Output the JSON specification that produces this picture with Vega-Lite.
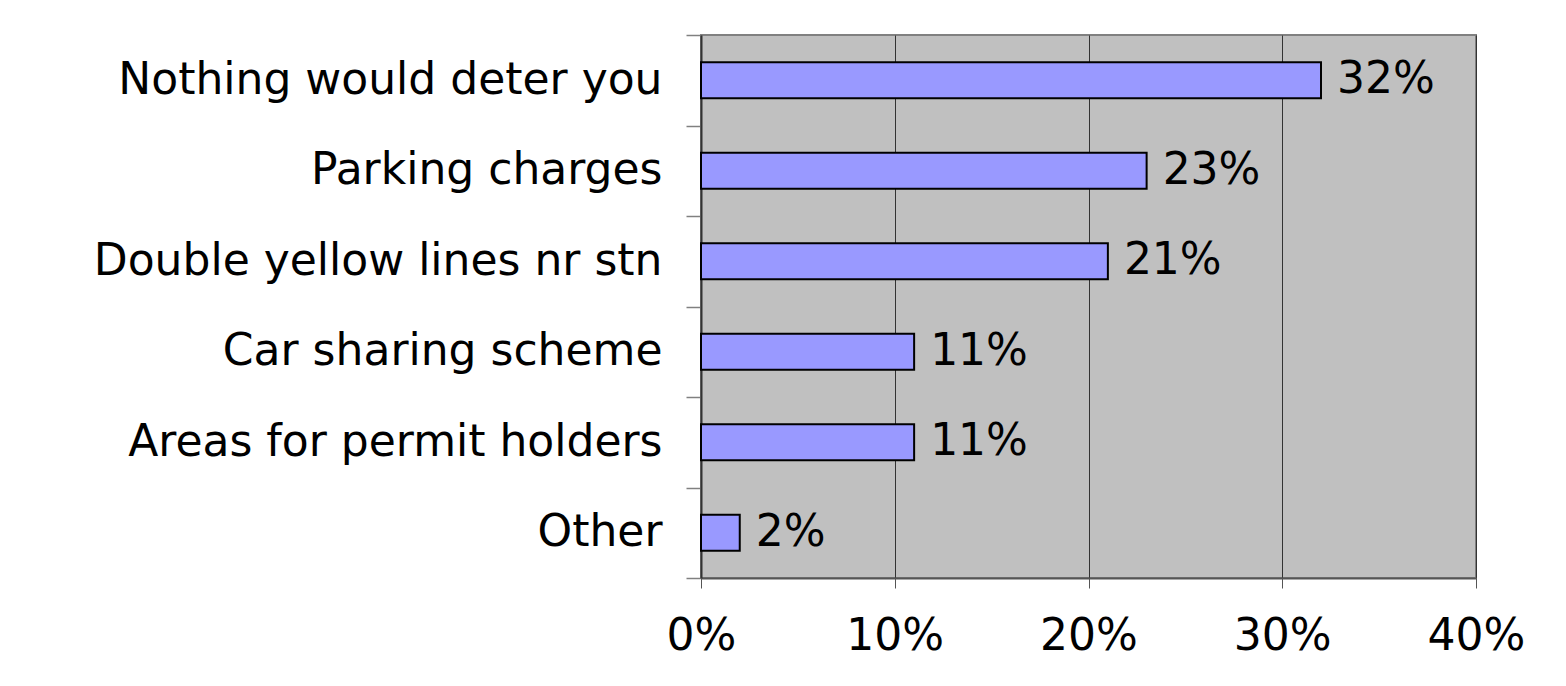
{
  "$schema": "https://vega.github.io/schema/vega-lite/v6.json",
  "width": 775,
  "height": 543,
  "autosize": {"type": "none"},
  "padding": {"left": 701, "top": 35, "right": 90, "bottom": 108},
  "background": "white",
  "data": {
    "values": [
      {"cat": "Nothing would deter you", "v": 0.32},
      {"cat": "Parking charges", "v": 0.23},
      {"cat": "Double yellow lines nr stn", "v": 0.21},
      {"cat": "Car sharing scheme", "v": 0.11},
      {"cat": "Areas for permit holders", "v": 0.11},
      {"cat": "Other", "v": 0.02}
    ]
  },
  "encoding": {
    "y": {
      "field": "cat",
      "type": "nominal",
      "sort": null,
      "scale": {"paddingInner": 0, "paddingOuter": 0},
      "axis": {
        "title": null,
        "tickBand": "extent",
        "tickSize": 15,
        "tickColor": "#808080",
        "tickWidth": 1.5,
        "domainColor": "#333333",
        "domainWidth": 2,
        "labelPadding": 24,
        "labelFont": "DejaVu Sans",
        "labelFontSize": 44,
        "labelColor": "#000000",
        "labelLimit": 0,
        "grid": false
      }
    },
    "x": {
      "field": "v",
      "type": "quantitative",
      "scale": {"domain": [0, 0.4], "nice": false},
      "axis": {
        "title": null,
        "format": ".0%",
        "values": [0, 0.1, 0.2, 0.3, 0.4],
        "tickSize": 10,
        "tickColor": "#555555",
        "domainColor": "#555555",
        "domainWidth": 2,
        "labelPadding": 26,
        "labelFont": "DejaVu Sans",
        "labelFontSize": 44,
        "labelColor": "#000000",
        "labelFlush": false,
        "grid": true,
        "gridColor": "#333333",
        "gridWidth": 1
      }
    }
  },
  "layer": [
    {
      "mark": {"type": "bar", "fill": "#9999FF", "stroke": "#000000", "strokeWidth": 2, "height": {"band": 0.4}}
    },
    {
      "mark": {
        "type": "text",
        "align": "left",
        "baseline": "middle",
        "dx": 16,
        "font": "DejaVu Sans",
        "fontSize": 44,
        "color": "#000000"
      },
      "encoding": {"text": {"field": "v", "type": "quantitative", "format": ".0%"}}
    }
  ],
  "config": {
    "view": {"fill": "#C0C0C0", "stroke": "#808080", "strokeWidth": 2}
  }
}
